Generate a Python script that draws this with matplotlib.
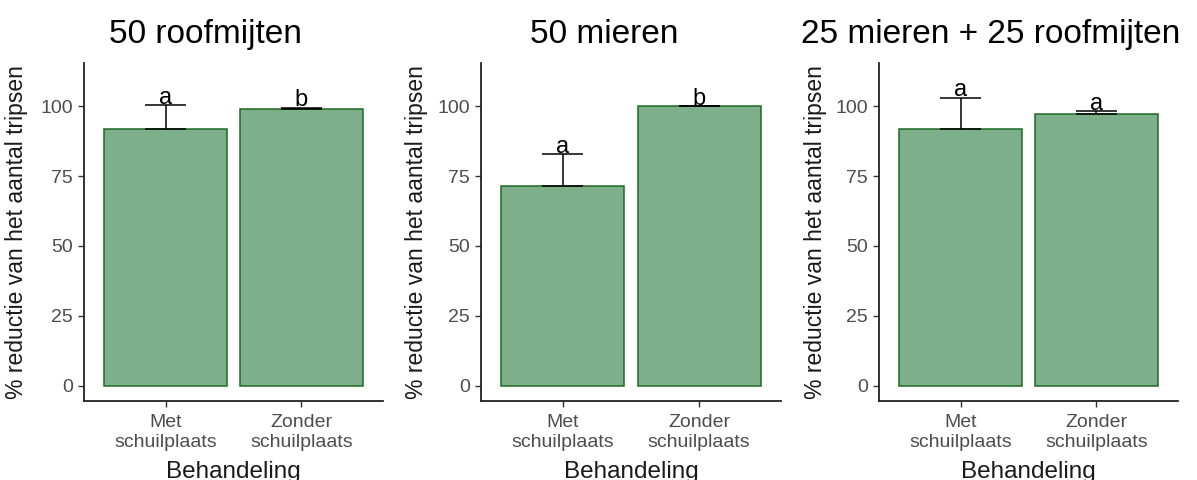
import matplotlib
matplotlib.use("Agg")
import matplotlib.pyplot as plt

plt.rcParams['font.family'] = ['Liberation Sans', 'DejaVu Sans']

titles = ["50 roofmijten", "50 mieren", "25 mieren + 25 roofmijten"]
treatments = ["Met\nschuilplaats", "Zonder\nschuilplaats"]
means = [[92.0, 98.9], [71.3, 100.0], [92.0, 97.3]]
se = [[8.4, 0.5], [11.5, 0.0], [11.0, 0.9]]
letters = [["a", "b"], ["a", "b"], ["a", "a"]]
yticks = [0, 25, 50, 75, 100]

fill = "#7caf8a"
edge = "#1e6b22"
tick_grey = "#4d4d4d"

fig = plt.figure(figsize=(11.97, 4.8), dpi=100)
W, H = 1197, 480

# panel layout in pixels: axis left, axis right, ylabel x, title centre
panels = [(84, 383, 28, 205), (481, 781, 428, 604), (879, 1178, 827, 991)]
top_px, bottom_px = 63, 401

for i, (x0, x1, ylab_x, title_x) in enumerate(panels):
    ax = fig.add_axes([x0 / W, 1 - bottom_px / H, (x1 - x0) / W, (bottom_px - top_px) / H])
    xs = [1, 2]
    ax.bar(xs, means[i], width=0.9, color=fill, edgecolor=edge, linewidth=1.1, zorder=2)
    for x, m, s, lab in zip(xs, means[i], se[i], letters[i]):
        ax.vlines(x, m, m + s, color="black", linewidth=1.1, zorder=3)
        ax.hlines([m, m + s], x - 0.15, x + 0.15, color="black", linewidth=1.1, zorder=3)
        ax.text(x, m + s + 0.6, lab, ha="center", va="baseline", fontsize=17, color="black")

    ax.set_xlim(0.4, 2.6)
    ax.set_ylim(-5.5, 115.5)
    ax.set_xticks(xs)
    ax.set_xticklabels(treatments)
    ax.set_yticks(yticks)
    ax.tick_params(axis="both", labelsize=14, labelcolor=tick_grey, color="#333333",
                   length=4.3, width=1.0)
    ax.tick_params(axis="y", pad=3.5)
    ax.tick_params(axis="x", pad=5)
    for side in ["top", "right"]:
        ax.spines[side].set_visible(False)
    for side in ["left", "bottom"]:
        ax.spines[side].set_color("#222222")
        ax.spines[side].set_linewidth(1.3)

    ax.set_ylabel("% reductie van het aantal tripsen", fontsize=16.5, color="#1a1a1a")
    ax.yaxis.set_label_coords((ylab_x - x0) / (x1 - x0), 0.5)
    ax.set_xlabel("Behandeling", fontsize=17.5, color="#1a1a1a")
    ax.xaxis.set_label_coords(0.5, -60 / (bottom_px - top_px))

    fig.text(title_x / W, 1 - 43 / H, titles[i], ha="center", va="baseline",
             fontsize=24, color="black")

fig.savefig("out.png", dpi=100)
